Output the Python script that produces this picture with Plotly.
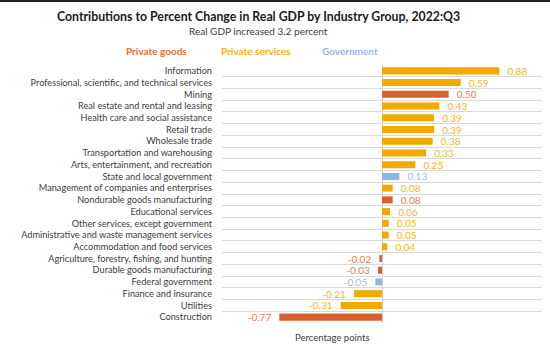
import plotly.graph_objects as go

categories = [
    "Information",
    "Professional, scientific, and technical services",
    "Mining",
    "Real estate and rental and leasing",
    "Health care and social assistance",
    "Retail trade",
    "Wholesale trade",
    "Transportation and warehousing",
    "Arts, entertainment, and recreation",
    "State and local government",
    "Management of companies and enterprises",
    "Nondurable goods manufacturing",
    "Educational services",
    "Other services, except government",
    "Administrative and waste management services",
    "Accommodation and food services",
    "Agriculture, forestry, fishing, and hunting",
    "Durable goods manufacturing",
    "Federal government",
    "Finance and insurance",
    "Utilities",
    "Construction",
]
values = [0.88, 0.59, 0.50, 0.43, 0.39, 0.39, 0.38, 0.33, 0.25, 0.13, 0.08, 0.08,
          0.06, 0.05, 0.05, 0.04, -0.02, -0.03, -0.05, -0.21, -0.31, -0.77]
groups = ["S", "S", "G", "S", "S", "S", "S", "S", "S", "V", "S", "G",
          "S", "S", "S", "S", "G", "G", "V", "S", "S", "G"]
group_names = {"G": "Private goods", "S": "Private services", "V": "Government"}
bar_colors = {"G": "#D8602F", "S": "#F2A900", "V": "#8FB4E2"}
label_colors = {"G": "#E4805A", "S": "#F3B62E", "V": "#9DBDE6"}
legend_colors = {"G": "#E0703A", "S": "#F4AE1A", "V": "#95B8E4"}

W, H = 550, 349
L, R, T, B = 222, 8, 65, 26
pw, ph = W - L - R, H - T - B

def px(x):
    return (x - L) / pw

def py(y):
    return (H - B - y) / ph

font_fam = "Lato, sans-serif"
pad = "\u00a0\u00a0"
labels = [(pad + f"{v:.2f}") if v >= 0 else (f"{v:.2f}" + pad) for v in values]

fig = go.Figure()
fig.add_trace(go.Bar(
    x=values, y=categories, orientation="h",
    marker=dict(color=[bar_colors[g] for g in groups], line=dict(width=0)),
    width=0.6,
    text=labels,
    textposition="outside",
    constraintext="none",
    textfont=dict(color=[label_colors[g] for g in groups], size=10, family=font_fam),
    cliponaxis=False,
    showlegend=False,
))

annotations = [
    dict(text="<b>Contributions to Percent Change in Real GDP by Industry Group, 2022:Q3</b>",
         x=px(258), y=py(16), xref="paper", yref="paper", showarrow=False,
         font=dict(size=12.3, color="#1a1a1a", family=font_fam), xanchor="center", yanchor="middle"),
    dict(text="Real GDP increased 3.2 percent",
         x=px(258), y=py(31), xref="paper", yref="paper", showarrow=False,
         font=dict(size=10, color="#404040", family=font_fam), xanchor="center", yanchor="middle"),
    dict(text="Percentage points",
         x=px(332), y=py(337), xref="paper", yref="paper", showarrow=False,
         font=dict(size=9.5, color="#404040", family=font_fam), xanchor="center", yanchor="middle"),
]
legend_x = {"G": 156, "S": 256, "V": 350}
for g in ["G", "S", "V"]:
    annotations.append(dict(
        text=f"<b>{group_names[g]}</b>", x=px(legend_x[g]), y=py(51),
        xref="paper", yref="paper", showarrow=False,
        font=dict(size=10, color=legend_colors[g], family=font_fam),
        xanchor="center", yanchor="middle"))

fig.update_layout(
    width=W, height=H,
    margin=dict(l=L, r=R, t=T, b=B),
    paper_bgcolor="white", plot_bgcolor="white",
    annotations=annotations,
    xaxis=dict(range=[-1.2, 1.2], showticklabels=False, showgrid=False,
               zeroline=True, zerolinecolor="#d0d0d0", zerolinewidth=1, fixedrange=True,
               automargin=False),
    yaxis=dict(categoryorder="array", categoryarray=categories, autorange="reversed",
               tickmode="linear", dtick=1,
               tickson="boundaries", showgrid=True, gridcolor="#d9d9d9", gridwidth=1,
               ticks="", ticklen=0, automargin=False,
               tickfont=dict(size=9.2, color="#404040", family=font_fam),
               ticklabelstandoff=9),
    shapes=[dict(type="rect", xref="paper", yref="paper", x0=px(0), x1=px(W),
                 y0=py(2), y1=py(-2), fillcolor="#222222", line=dict(width=0))],
    bargap=0.4,
)

fig.write_html("out.html")
